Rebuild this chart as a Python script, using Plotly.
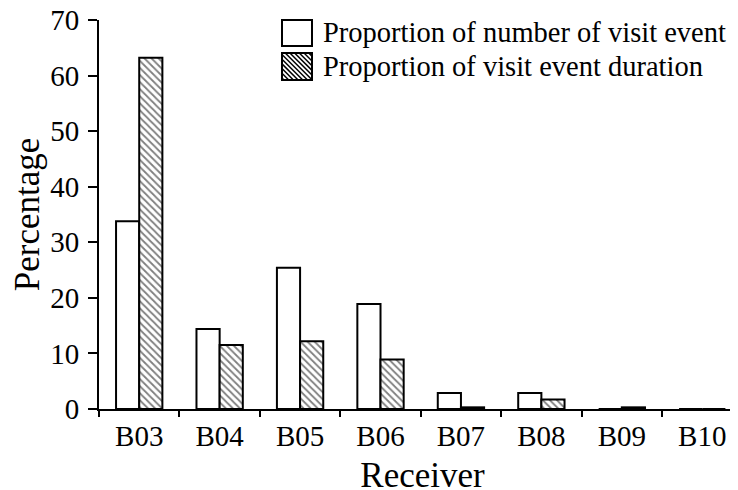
import plotly.graph_objects as go

receivers = ["B03", "B04", "B05", "B06", "B07", "B08", "B09", "B10"]
prop_number = [33.8, 14.4, 25.4, 18.9, 2.9, 2.9, 0.0, 0.0]
prop_duration = [63.2, 11.5, 12.2, 8.9, 0.3, 1.7, 0.3, 0.0]
series_names = ["Proportion of number of visit event",
                "Proportion of visit event duration"]
y_ticks = [0, 10, 20, 30, 40, 50, 60, 70]

FONT = "Liberation Serif, Times New Roman, serif"
FS = 29

# figure geometry (page body has an 8px margin, compensated here)
W, H = 738, 490
ML, MR, MT, MB = 91, 0, 12, 88.7
PW = W - ML - MR
PH = H - MT - MB


def px(xp):
    return (xp - ML) / PW


def py(yp):
    return (H - MB - yp) / PH


HATCH = dict(shape="\\", fgcolor="black", bgcolor="white", size=5, solidity=0.36)
LINE = dict(color="black", width=2)

fig = go.Figure()
fig.add_trace(go.Bar(
    x=receivers, y=prop_number, name=series_names[0], showlegend=False,
    marker=dict(color="white", line=LINE),
))
fig.add_trace(go.Bar(
    x=receivers, y=prop_duration, name=series_names[1], showlegend=False,
    marker=dict(color="white", line=LINE, pattern=HATCH),
))

# hand-drawn legend (large swatches like the original)
shapes = []
annotations = []
box_x0, box_x1 = 274, 304
rows = [(12, 38), (45, 72)]
for i, (y0, y1) in enumerate(rows):
    shapes.append(dict(type="rect", xref="paper", yref="paper",
                       x0=px(box_x0), x1=px(box_x1), y0=py(y1), y1=py(y0),
                       line=dict(color="black", width=2), fillcolor="white",
                       layer="above"))
    if i == 1:
        step = 4.7
        c = -(y1 - y0) + 2
        while c < (box_x1 - box_x0):
            ys = y0
            xs = box_x0 + c
            if xs < box_x0:
                ys = y0 + (box_x0 - xs)
                xs = box_x0
            ye = y1
            xe = box_x0 + c + (y1 - y0)
            if xe > box_x1:
                ye = y1 - (xe - box_x1)
                xe = box_x1
            if ye > ys:
                shapes.append(dict(type="line", xref="paper", yref="paper",
                                   x0=px(xs), y0=py(ys), x1=px(xe), y1=py(ye),
                                   line=dict(color="black", width=1.5),
                                   layer="above"))
            c += step
        shapes.append(dict(type="rect", xref="paper", yref="paper",
                           x0=px(box_x0), x1=px(box_x1), y0=py(y1), y1=py(y0),
                           line=dict(color="black", width=2),
                           fillcolor="rgba(0,0,0,0)", layer="above"))
    annotations.append(dict(text=series_names[i], xref="paper", yref="paper",
                            x=px(313), y=py((y0 + y1) / 2), xanchor="left",
                            yanchor="middle", showarrow=False,
                            font=dict(family=FONT, size=28.5, color="black")))

fig.update_layout(
    width=W, height=H,
    margin=dict(l=ML, r=MR, t=MT, b=MB, autoexpand=False),
    paper_bgcolor="white", plot_bgcolor="white",
    barmode="group", bargap=0.424, bargroupgap=0,
    font=dict(family=FONT, size=FS, color="black"),
    showlegend=False,
    shapes=shapes, annotations=annotations,
    xaxis=dict(
        range=[-0.5, 7.544], showline=True, linecolor="black", linewidth=2,
        ticks="outside", ticklen=6, tickwidth=2, tickcolor="black",
        tickson="boundaries", showgrid=False, zeroline=False,
        title=dict(text="Receiver", standoff=12),
        automargin=False,
    ),
    yaxis=dict(
        range=[0, 70], tickvals=y_ticks, showline=True, linecolor="black",
        linewidth=2, ticks="outside", ticklen=9, tickwidth=2, tickcolor="black",
        ticklabelstandoff=3, ticklabeloverflow="allow",
        showgrid=False, zeroline=False,
        title=dict(text="Percentage", standoff=8),
        automargin=False,
    ),
)

fig.write_html("out.html")
